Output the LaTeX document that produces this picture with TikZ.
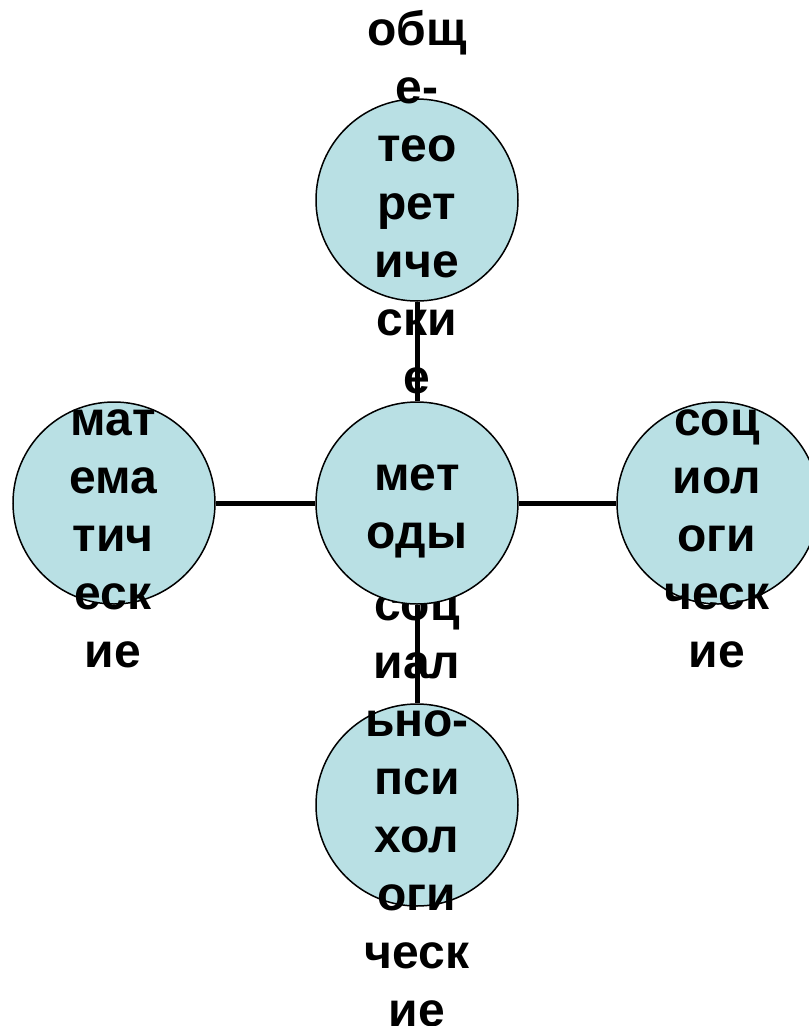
\documentclass[tikz,border=0pt]{standalone}
\usepackage{fontspec}
\setmainfont{Liberation Sans}
\definecolor{circfill}{RGB}{185,224,228}
\begin{document}
\begin{tikzpicture}[x=1pt,y=-1pt,
  circ/.style={circle,draw=black,line width=1.5pt,fill=circfill,minimum size=202pt,inner sep=0pt},
  lbl/.style={anchor=base,inner sep=0pt,font=\fontsize{48}{58}\selectfont\bfseries},
  conn/.style={line width=5pt,black}]
\useasboundingbox (0,0) rectangle (809,1026);
\node[circ] (t) at (417,200) {};
\node[lbl] (tt) at (417,45) {\begin{tabular}[t]{@{}c@{}}общ\\е-\\тео\\рет\\иче\\ски\\е\end{tabular}};
\node[circ] (l) at (114,503) {};
\node[lbl] (lt) at (113,435) {\begin{tabular}[t]{@{}c@{}}мат\\ема\\тич\\еск\\ие\end{tabular}};
\node[circ] (r) at (718,503) {};
\node[lbl] (rt) at (717,435) {\begin{tabular}[t]{@{}c@{}}соц\\иол\\оги\\ческ\\ие\end{tabular}};
\node[circ] (b) at (417,805) {};
\node[lbl] (bt) at (417,620) {\begin{tabular}[t]{@{}c@{}}соц\\иал\\ьно-\\пси\\хол\\оги\\ческ\\ие\end{tabular}};
\node[circ] (c) at (417,503) {};
\node[lbl] (ct) at (417,490) {\begin{tabular}[t]{@{}c@{}}мет\\оды\end{tabular}};
\draw[conn] (c) -- (t);
\draw[conn] (c) -- (l);
\draw[conn] (c) -- (r);
\draw[conn] (c) -- (b);
\end{tikzpicture}
\end{document}
